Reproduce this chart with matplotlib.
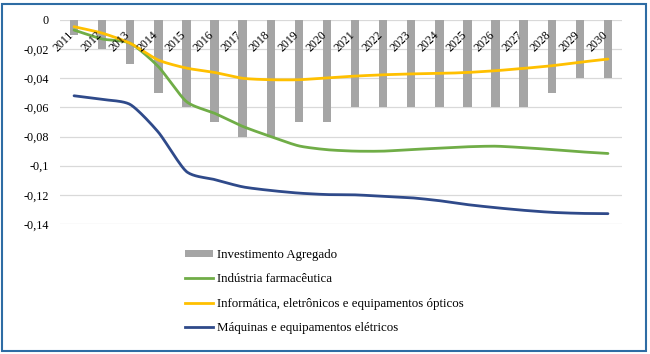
import numpy as np
import matplotlib
matplotlib.use("Agg")
import matplotlib.pyplot as plt
from matplotlib.patches import Rectangle
from matplotlib.lines import Line2D
from matplotlib.patches import Patch

plt.rcParams['font.family'] = ['Liberation Serif', 'DejaVu Serif']

years = [str(y) for y in range(2011, 2031)]
investimento = [-0.01, -0.02, -0.03, -0.05, -0.06, -0.07, -0.08, -0.08, -0.07, -0.07,
                -0.06, -0.06, -0.06, -0.06, -0.06, -0.06, -0.06, -0.05, -0.04, -0.04]
farmaceutica = [-0.0069, -0.013, -0.016, -0.032, -0.056, -0.064, -0.073, -0.080, -0.0864, -0.089,
                -0.0900, -0.0900, -0.0889, -0.0880, -0.0870, -0.0866, -0.0876, -0.0889, -0.0904, -0.0916]
informatica = [-0.0046, -0.009, -0.016, -0.0275, -0.033, -0.036, -0.040, -0.041, -0.041, -0.0397,
               -0.0385, -0.0376, -0.037, -0.0367, -0.036, -0.0348, -0.0332, -0.0314, -0.029, -0.0268]
maquinas = [-0.052, -0.0545, -0.058, -0.077, -0.104, -0.1095, -0.1145, -0.1170, -0.1188, -0.1198,
            -0.120, -0.121, -0.122, -0.124, -0.1267, -0.1288, -0.1306, -0.132, -0.1327, -0.1329]
yticks = [0, -0.02, -0.04, -0.06, -0.08, -0.1, -0.12, -0.14]
ytick_labels = ['0', '-0,02', '-0,04', '-0,06', '-0,08', '-0,1', '-0,12', '-0,14']
labels = ['Investimento Agregado', 'Indústria farmacêutica',
          'Informática, eletrônicos e equipamentos ópticos',
          'Máquinas e equipamentos elétricos']


def smooth(x, y, n=20, k=0.7):
    # Cardinal-spline rendering of the line through the data points (Excel "smoothed line")
    x = np.asarray(x, float)
    y = np.asarray(y, float)
    P = np.column_stack([x, y])
    m = np.zeros_like(P)
    m[1:-1] = (P[2:] - P[:-2]) / 2 * k
    m[0] = (P[1] - P[0]) * k
    m[-1] = (P[-1] - P[-2]) * k
    t = np.linspace(0, 1, n, endpoint=False)[:, None]
    h00 = 2 * t ** 3 - 3 * t ** 2 + 1
    h10 = t ** 3 - 2 * t ** 2 + t
    h01 = -2 * t ** 3 + 3 * t ** 2
    h11 = t ** 3 - t ** 2
    out = []
    for i in range(len(P) - 1):
        out.append(h00 * P[i] + h10 * m[i] + h01 * P[i + 1] + h11 * m[i + 1])
    out.append(P[-1][None, :])
    out = np.vstack(out)
    return out[:, 0], out[:, 1]


fig = plt.figure(figsize=(6.5, 3.54), dpi=100)
ax = fig.add_axes([60 / 650, 1 - 224 / 354, 562 / 650, 204 / 354])

x = np.arange(len(years))
grid_c = '#D9D9D9'
for v in yticks:
    ax.axhline(v, color=grid_c, lw=0.9, zorder=0)

ax.bar(x, investimento, width=0.3, color='#A5A5A5', zorder=2)

colors = ['#70AD47', '#FFC000', '#2F4A8A']
for series, c in zip([farmaceutica, informatica, maquinas], colors):
    sx, sy = smooth(x, series)
    ax.plot(sx, sy, color=c, lw=2.0, zorder=3, solid_capstyle='round', clip_on=False)

ax.set_xlim(-0.5, len(years) - 0.5)
ax.set_ylim(-0.14, 0)
ax.set_yticks(yticks)
ax.set_yticklabels(ytick_labels, fontsize=8.7)
ax.tick_params(axis='y', length=0, pad=8)
ax.set_xticks([])
for s in ax.spines.values():
    s.set_visible(False)

for i, yr in enumerate(years):
    ax.annotate(yr, xy=(i, 0), xytext=(-1.5, -9.5), textcoords='offset points',
                rotation=45, rotation_mode='anchor', ha='right', va='center',
                fontsize=8.5, zorder=4)

handles = [Patch(facecolor='#A5A5A5', edgecolor='none'),
           Line2D([], [], color=colors[0], lw=2.0),
           Line2D([], [], color=colors[1], lw=2.0),
           Line2D([], [], color=colors[2], lw=2.0)]
leg = fig.legend(handles, labels, loc='upper left', bbox_to_anchor=(185 / 650, 1 - 249 / 354),
                 frameon=False, fontsize=9.3, handlelength=2.2, handleheight=0.45,
                 handletextpad=0.25, labelspacing=0.95, borderpad=0, borderaxespad=0)

fig.patches.append(Rectangle((2 / 650, 3 / 354), 644 / 650, 347 / 354, transform=fig.transFigure,
                             fill=False, edgecolor='#2E6CA4', lw=1.5))

fig.savefig('out.png', dpi=100)
